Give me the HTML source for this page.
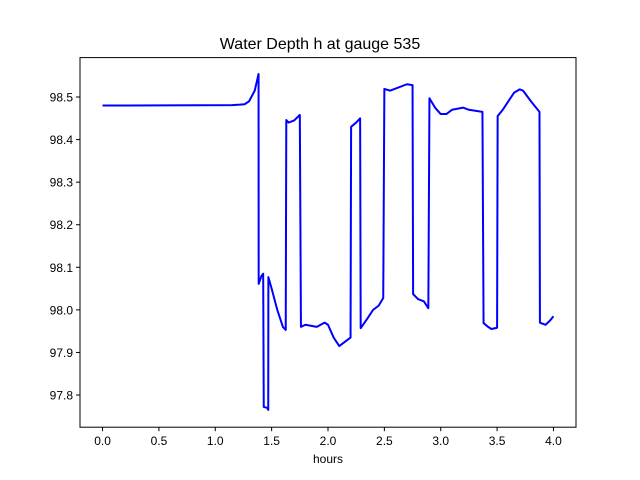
<!DOCTYPE html>
<html><head><meta charset="utf-8"><style>
body{margin:0;background:#fff;}
svg{display:block;font-family:"Liberation Sans","DejaVu Sans",sans-serif;}
</style></head><body>
<svg id="chart" width="640" height="480"></svg>
<script>
const hours=[0,1.15,1.22,1.26,1.3,1.35,1.384,1.385,1.41,1.425,1.43,1.46,1.47,1.471,1.5,1.55,1.6,1.625,1.63,1.65,1.7,1.75,1.76,1.8,1.9,1.97,2.0,2.05,2.1,2.15,2.2,2.205,2.25,2.285,2.29,2.35,2.4,2.45,2.49,2.5,2.55,2.6,2.7,2.75,2.755,2.8,2.85,2.89,2.9,2.95,3.0,3.05,3.1,3.2,3.25,3.37,3.38,3.42,3.45,3.5,3.505,3.55,3.6,3.65,3.7,3.73,3.8,3.876,3.88,3.93,3.97,4.0];
const depth=[98.48,98.481,98.482,98.483,98.49,98.515,98.554,98.061,98.08,98.085,97.772,97.77,97.765,98.077,98.05,98.0,97.96,97.953,98.446,98.44,98.445,98.458,97.96,97.965,97.96,97.97,97.965,97.935,97.915,97.925,97.935,98.43,98.44,98.45,97.957,97.98,98.0,98.01,98.028,98.519,98.515,98.52,98.53,98.528,98.037,98.025,98.02,98.004,98.497,98.475,98.46,98.46,98.47,98.475,98.47,98.465,97.969,97.96,97.955,97.958,98.455,98.47,98.49,98.51,98.518,98.515,98.49,98.465,97.97,97.965,97.975,97.985];
const xTicks=[0,0.5,1,1.5,2,2.5,3,3.5,4];
const xTickLabels=["0.0","0.5","1.0","1.5","2.0","2.5","3.0","3.5","4.0"];
const yTicks=[97.8,97.9,98.0,98.1,98.2,98.3,98.4,98.5];
const yTickLabels=["97.8","97.9","98.0","98.1","98.2","98.3","98.4","98.5"];

const L=80,R=576,T=57.6,B=427.2;
const X0=-0.2,X1=4.2,Y0=97.7244,Y1=98.5926;
const sx=v=>L+(v-X0)/(X1-X0)*(R-L);
const sy=v=>B-(v-Y0)/(Y1-Y0)*(B-T);
const NS="http://www.w3.org/2000/svg";
const svg=document.getElementById('chart');
function mk(tag,attrs,parent){const e=document.createElementNS(NS,tag);for(const k in attrs)e.setAttribute(k,attrs[k]);(parent||svg).appendChild(e);return e;}

let t=mk('text',{x:320,y:49,'text-anchor':'middle','font-size':16,fill:'#000'});


t.textContent='Water Depth h at gauge 535';

let pts=hours.map((h,i)=>sx(h).toFixed(2)+','+sy(depth[i]).toFixed(2)).join(' ');
let line=mk('polyline',{points:pts,fill:'none',stroke:'#0000ff','stroke-width':2,'stroke-linejoin':'round'});



let frame=mk('rect',{x:L,y:T,width:R-L,height:B-T,fill:'none',stroke:'#000','stroke-width':1});



xTicks.forEach((v,i)=>{
  const x=sx(v);
  let tk=mk('line',{x1:x,x2:x,y1:B,y2:B+4,stroke:'#000','stroke-width':1});
  
  
  let lb=mk('text',{x:x,y:B+18,'text-anchor':'middle','font-size':12,fill:'#000'});
  
  
  lb.textContent=xTickLabels[i];
});
yTicks.forEach((v,i)=>{
  const y=sy(v);
  let tk=mk('line',{x1:L-4,x2:L,y1:y,y2:y,stroke:'#000','stroke-width':1});
  
  
  let lb=mk('text',{x:L-7,y:y+4.5,'text-anchor':'end','font-size':12,fill:'#000'});
  
  
  lb.textContent=yTickLabels[i];
});
let xl=mk('text',{x:(L+R)/2,y:463,'text-anchor':'middle','font-size':12,fill:'#000'});


xl.textContent='hours';
</script>
</body></html>
